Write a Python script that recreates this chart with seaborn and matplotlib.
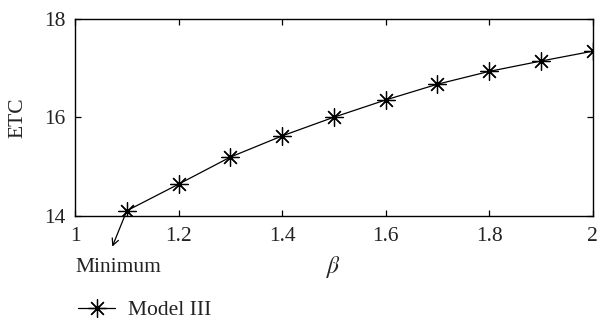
import matplotlib
matplotlib.use("Agg")
import matplotlib.pyplot as plt
import pandas as pd
import seaborn as sns

beta = [1.1, 1.2, 1.3, 1.4, 1.5, 1.6, 1.7, 1.8, 1.9, 2.0]
etc = [14.10, 14.64, 15.19, 15.62, 16.00, 16.35, 16.67, 16.93, 17.14, 17.34]
x_ticks = [1, 1.2, 1.4, 1.6, 1.8, 2]
x_labels = ["1", "1.2", "1.4", "1.6", "1.8", "2"]
y_ticks = [14, 16, 18]

sns.set_theme(style="ticks")
plt.rcParams['font.family'] = ['Liberation Serif', 'DejaVu Serif']
plt.rcParams['mathtext.fontset'] = 'stix'

df = pd.DataFrame({"beta": beta, "ETC": etc})

fig = plt.figure(figsize=(6.03, 3.25), dpi=100)
ax = fig.add_axes([0.1244, 0.3363, 0.8586, 0.6062])

sns.lineplot(data=df, x="beta", y="ETC", color="black", linewidth=0.9,
             marker=(8, 2, 0), markersize=13, markeredgewidth=0.9,
             markeredgecolor="black", label="Model III", ax=ax)

ax.set_xlim(1, 2)
ax.set_ylim(14, 18)
ax.set_xticks(x_ticks)
ax.set_xticklabels(x_labels)
ax.set_yticks(y_ticks)
ax.tick_params(direction="in", length=4, width=0.9, top=True, right=True,
               labelsize=15.5, colors="black", labelcolor="#222222")
ax.tick_params(axis="x", pad=8)
ax.tick_params(axis="y", pad=7)
for s in ax.spines.values():
    s.set_linewidth(1.0)
    s.set_color("black")

ax.set_xlabel(r"$\beta$", fontsize=17, labelpad=6)
ax.set_ylabel("ETC", fontsize=15.5, color="#222222", labelpad=12)

# minimum annotation
ax.annotate("", xy=(1.07, 13.32), xytext=(beta[0], etc[0]),
            arrowprops=dict(arrowstyle="->", color="black", lw=0.9),
            annotation_clip=False)
ax.text(0, -0.265, "Minimum", transform=ax.transAxes, fontsize=15.5,
        ha="left", va="center", color="#222222")

ax.legend(loc="center left", bbox_to_anchor=(0.098, 0.045), bbox_transform=fig.transFigure,
          frameon=False, fontsize=15.5, handlelength=1.7, handletextpad=0.6,
          labelcolor="#222222")

fig.savefig("out.png", dpi=100)
